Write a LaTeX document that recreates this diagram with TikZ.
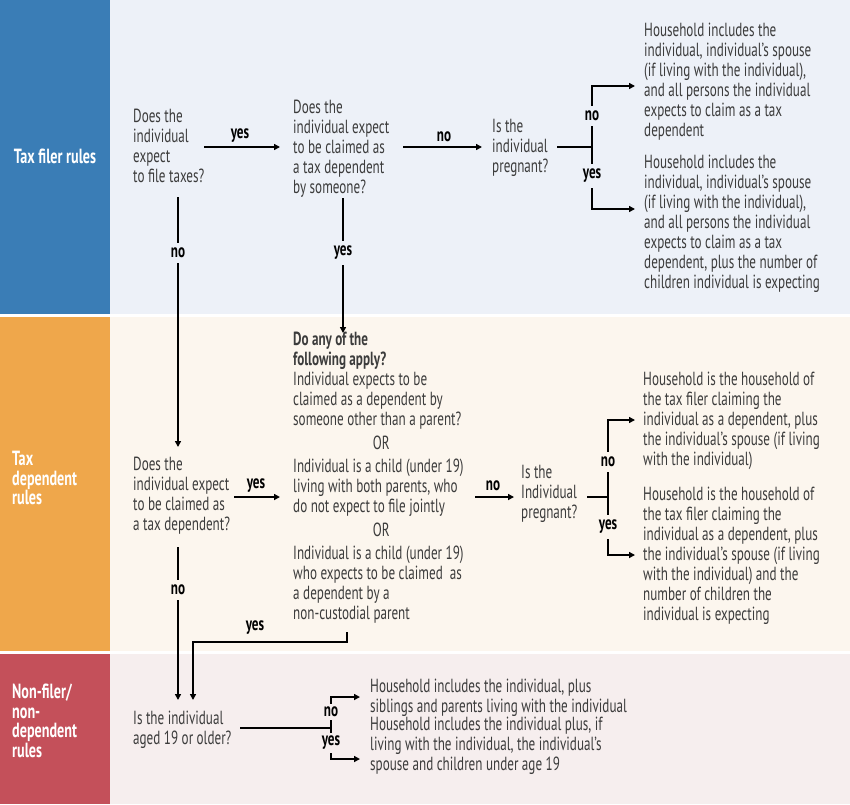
\documentclass[tikz,border=0pt]{standalone}
\usepackage{fontspec}
\setmainfont{PT Sans}[FakeStretch=0.69]
\usetikzlibrary{arrows.meta}
\definecolor{bluebar}{HTML}{3A7DB6}
\definecolor{bluebg}{HTML}{EDF1F8}
\definecolor{orangebar}{HTML}{EFA74B}
\definecolor{orangebg}{HTML}{FCF6EE}
\definecolor{redbar}{HTML}{C4505A}
\definecolor{redbg}{HTML}{F6EEEE}
\definecolor{txtgray}{HTML}{3C3C3C}
\tikzset{
  txt/.style={font=\fontsize{19}{20}\selectfont, text=txtgray, align=left, inner sep=0pt, anchor=north west},
  side/.style={font=\bfseries\fontsize{20.5}{19.5}\selectfont, text=white, align=left, inner sep=0pt},
  lbl/.style={font=\bfseries\fontsize{19}{20}\selectfont, text=black, inner xsep=1pt, inner ysep=1pt},
  vlbl/.style={lbl, inner ysep=5pt},
  ln/.style={line width=1.5pt, black},
  arr/.style={ln, -{Triangle[length=6pt,width=6pt]}},
}
\begin{document}
\begin{tikzpicture}[x=1pt,y=-1pt]
\useasboundingbox (0,0) rectangle (850,804);
\fill[white] (0,0) rectangle (850,804);
% bands
\fill[bluebg] (110,0) rectangle (850,314);
\fill[bluebar] (0,0) rectangle (110,314);
\fill[orangebg] (110,317) rectangle (850,651);
\fill[orangebar] (0,317) rectangle (110,651);
\fill[redbg] (110,654) rectangle (850,804);
\fill[redbar] (0,654) rectangle (110,804);
% side labels
\node[side] (s1) at (55,156) {Tax filer rules};
\node[side, anchor=north west] (s2) at (12,451) {Tax\\dependent\\rules};
\node[side, anchor=north west] (s3) at (12,684) {Non-filer/\\non-\\dependent\\rules};
% tax filer nodes
\node[txt] (q1) at (133,109) {Does the\\individual\\expect\\to file taxes?};
\node[txt] (q2) at (293,100) {Does the\\individual expect\\to be claimed as\\a tax dependent\\by someone?};
\node[txt] (q3) at (492,119) {Is the\\individual\\pregnant?};
\node[txt] (h1) at (644,23) {Household includes the\\individual, individual’s spouse\\(if living with the individual),\\and all persons the individual\\expects to claim as a tax\\dependent};
\node[txt] (h2) at (644,155) {Household includes the\\individual, individual’s spouse\\(if living with the individual),\\and all persons the individual\\expects to claim as a tax\\dependent, plus the number of\\children individual is expecting};
% tax dependent nodes
\node[txt] (q4) at (133,457) {Does the\\individual expect\\to be claimed as\\a tax dependent?};
\node[txt] (dq) at (293,332) {\textbf{Do any of the}\\\textbf{following apply?}\\Individual expects to be\\claimed as a dependent by\\someone other than a parent?\\[3.5pt]\makebox[176pt]{OR}\\[3.5pt]Individual is a child (under 19)\\living with both parents, who\\do not expect to file jointly\\[3.5pt]\makebox[176pt]{OR}\\[3.5pt]Individual is a child (under 19)\\who expects to be claimed\ \ as\\a dependent by a\\non-custodial parent};
\node[txt] (q5) at (521,465) {Is the\\Individual\\pregnant?};
\node[txt] (h3) at (643,372) {Household is the household of\\the tax filer claiming the\\individual as a dependent, plus\\the individual’s spouse (if living\\with the individual)};
\node[txt] (h4) at (643,487) {Household is the household of\\the tax filer claiming the\\individual as a dependent, plus\\the individual’s spouse (if living\\with the individual) and the\\number of children the\\individual is expecting};
% non-filer nodes
\node[txt] (q6) at (133,711) {Is the individual\\aged 19 or older?};
\node[txt] (h5) at (370,679) {Household includes the individual, plus\\siblings and parents living with the individual};
\node[txt] (h6) at (370,717) {Household includes the individual plus, if\\living with the individual, the individual’s\\spouse and children under age 19};
% coordinates
\coordinate (c1a) at (204,147); \coordinate (c1b) at (280,147);
\coordinate (c2a) at (403,147); \coordinate (c2b) at (482,147);
\coordinate (c3a) at (557,147); \coordinate (j1) at (592,147);
\coordinate (t1) at (635,86); \coordinate (t2) at (635,209);
\coordinate (c4a) at (178,197); \coordinate (c4b) at (178,447);
\coordinate (c5a) at (343,198); \coordinate (c5b) at (343,333);
\coordinate (c6a) at (234,497); \coordinate (c6b) at (280,497);
\coordinate (c7a) at (475,497); \coordinate (c7b) at (514,497);
\coordinate (c8a) at (587,497); \coordinate (j2) at (608,497);
\coordinate (t3) at (635,420); \coordinate (t4) at (635,555);
\coordinate (c9a) at (178,547); \coordinate (c9b) at (178,700);
\coordinate (c10a) at (347,632); \coordinate (c10m) at (347,642); \coordinate (c10b) at (193,700);
\coordinate (c11a) at (240,728); \coordinate (j3) at (331,728);
\coordinate (t5) at (360,697); \coordinate (t6) at (360,759);
% connectors tax filer
\draw[arr] (c1a) -- (c1b);
\node[lbl] (l1) at (240,136) {yes};
\draw[arr] (c2a) -- (c2b);
\node[lbl] (l2) at (444,137) {no};
\draw[ln] (c3a) -- (j1);
\draw[arr] (j1) |- (t1);
\draw[arr] (j1) |- (t2);
\node[vlbl, fill=bluebg] (l3) at (592,116) {no};
\node[vlbl, fill=bluebg] (l4) at (592,176) {yes};
\draw[arr] (c4a) -- (c4b);
\node[vlbl, fill=bluebg] (l5) at (178,253) {no};
\draw[arr] (c5a) -- (c5b);
\node[vlbl, fill=bluebg] (l6) at (343,253) {yes};
% connectors tax dependent
\draw[arr] (c6a) -- (c6b);
\node[lbl] (l7) at (256,486) {yes};
\draw[arr] (c7a) -- (c7b);
\node[lbl] (l8) at (493,486) {no};
\draw[ln] (c8a) -- (j2);
\draw[arr] (j2) |- (t3);
\draw[arr] (j2) |- (t4);
\node[vlbl, fill=orangebg] (l9) at (608,462) {no};
\node[vlbl, fill=orangebg] (l10) at (608,527) {yes};
\draw[arr] (c9a) -- (c9b);
\node[vlbl, fill=orangebg] (l11) at (178,590) {no};
\draw[arr] (c10a) -- (c10m) -| (c10b);
\node[lbl] (l12) at (255,628) {yes};
% connectors non-filer
\draw[ln] (c11a) -- (j3);
\draw[arr] (j3) |- (t5);
\draw[arr] (j3) |- (t6);
\node[vlbl, inner ysep=3pt, fill=redbg] (l13) at (331,712) {no};
\node[vlbl, inner ysep=3pt, fill=redbg] (l14) at (331,743) {yes};
\end{tikzpicture}
\end{document}
